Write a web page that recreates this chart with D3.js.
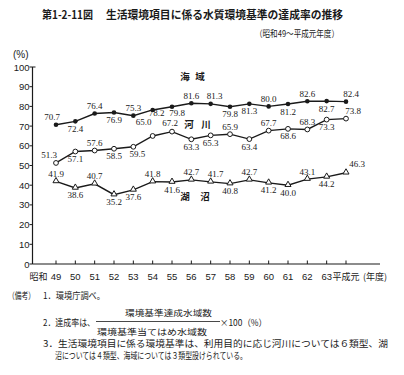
<!DOCTYPE html>
<html><head><meta charset="utf-8">
<script src="https://cdn.jsdelivr.net/npm/d3@7/dist/d3.min.js"></script>
<style>
body{margin:0;background:#fff;}
svg{display:block;}
</style></head>
<body>
<svg id="c" width="404" height="375"></svg>
<script>
// ---- data ----
const years = ["49","50","51","52","53","54","55","56","57","58","59","60","61","62","63","平成元"];
const seaValues   = [70.7,72.4,76.4,76.9,75.3,78.2,79.8,81.6,81.3,79.8,81.3,80.0,81.2,82.6,82.7,82.4];
const riverValues = [51.3,57.1,57.6,58.5,59.5,65.0,67.2,63.3,65.3,65.9,63.4,67.7,68.6,68.3,73.3,73.8];
const lakeValues  = [41.9,38.6,40.7,35.2,37.6,41.8,41.6,42.7,41.7,40.8,42.7,41.2,40.0,43.1,44.2,46.3];
const yTicks = [0,10,20,30,40,50,60,70,80,90,100];
const seriesNames = ["海　域","河　川","湖　沼"];

// ---- label placement (layout only) ----
const places = ["abababbaabbababa", "ababbaabbabababa", "ababbabaababbaba"];
const dxs = [
  {0:-4,5:4,6:5,8:4,15:5},
  {0:-7,4:4,5:-9,6:-2,15:7},
  {8:5,15:11}
];
const dys = [
  {5:-4.5,6:-1.5},
  {5:-6,6:-1.6},
  {15:-1}
];

const svg = d3.select("#c");
const ink = "#1a1a1a";
const x = d3.scalePoint().domain(years).range([56,346]);
const y = d3.scaleLinear().domain([0,100]).range([264,67]);
const x0 = 32.5;

// Title
svg.append("text").attr("x",42).attr("y",19).attr("font-family","Noto Sans CJK JP")
  .attr("font-weight","bold").attr("font-size",11).attr("fill",ink)
  .attr("textLength",51).attr("lengthAdjust","spacingAndGlyphs").text("第1-2-11図");
svg.append("text").attr("x",106).attr("y",19).attr("font-family","Noto Sans CJK JP")
  .attr("font-weight","bold").attr("font-size",11).attr("fill",ink)
  .attr("textLength",237).attr("lengthAdjust","spacingAndGlyphs").text("生活環境項目に係る水質環境基準の達成率の推移");
svg.append("text").attr("x",255).attr("y",36.5).attr("font-family","Noto Sans CJK JP")
  .attr("font-size",9).attr("fill",ink)
  .attr("textLength",84).attr("lengthAdjust","spacingAndGlyphs").text("（昭和49～平成元年度）");

// (%)
svg.append("text").attr("x",13).attr("y",58).attr("font-family","Liberation Sans")
  .attr("font-size",10).attr("fill",ink).text("(%)");

// Axes
const g = svg.append("g");
g.append("line").attr("x1",x0).attr("x2",x0).attr("y1",y(100)).attr("y2",y(0)).attr("stroke",ink).attr("stroke-width",1.2);
g.append("line").attr("x1",x0).attr("x2",380).attr("y1",y(0)).attr("y2",y(0)).attr("stroke",ink).attr("stroke-width",1.2);
g.selectAll(".yt").data(yTicks).enter().append("line")
  .attr("x1",x0-3).attr("x2",d=>d===100?x0+3:x0).attr("y1",d=>y(d)).attr("y2",d=>y(d))
  .attr("stroke",ink).attr("stroke-width",1);
g.selectAll(".yl").data(yTicks).enter().append("text")
  .attr("x",29.5).attr("y",d=>y(d)+3.5).attr("text-anchor","end")
  .attr("font-family","Liberation Sans").attr("font-size",9.5).attr("fill",ink).text(d=>d);
g.selectAll(".xt").data(years).enter().append("line")
  .attr("x1",d=>x(d)).attr("x2",d=>x(d)).attr("y1",y(0)).attr("y2",y(0)-3.5)
  .attr("stroke",ink).attr("stroke-width",1);
g.selectAll(".xl").data(years).enter().append("text")
  .attr("x",d=>x(d)).attr("y",279.5).attr("text-anchor","middle")
  .attr("font-family",d=>d.length>2?"Noto Sans CJK JP":"Liberation Sans")
  .attr("font-size",d=>d.length>2?9:9.5).attr("fill",ink).text(d=>d);
svg.append("text").attr("x",38.5).attr("y",279.5).attr("text-anchor","middle")
  .attr("font-family","Noto Sans CJK JP").attr("font-size",9).attr("fill",ink).text("昭和");
svg.append("text").attr("x",363).attr("y",279.5)
  .attr("font-family","Noto Sans CJK JP").attr("font-size",9).attr("fill",ink).text("(年度)");

// Series
const series = [seaValues, riverValues, lakeValues];
const line = d3.line().x((d,i)=>x(years[i])).y(d=>y(d));
series.forEach((vals,si)=>{
  const sg = svg.append("g");
  sg.append("path").attr("d",line(vals)).attr("fill","none").attr("stroke",ink).attr("stroke-width",1.4);
  if(si===0){
    sg.selectAll("circle").data(vals).enter().append("circle")
      .attr("cx",(d,i)=>x(years[i])).attr("cy",d=>y(d)).attr("r",2.3).attr("fill",ink);
  } else if(si===1){
    sg.selectAll("circle").data(vals).enter().append("circle")
      .attr("cx",(d,i)=>x(years[i])).attr("cy",d=>y(d)).attr("r",2.4)
      .attr("fill","#fff").attr("stroke",ink).attr("stroke-width",1);
  } else {
    const tri = d3.symbol().type(d3.symbolTriangle).size(16);
    sg.selectAll("path.m").data(vals).enter().append("path").attr("class","m")
      .attr("d",tri).attr("transform",(d,i)=>`translate(${x(years[i])},${y(d)-0.5})`)
      .attr("fill","#fff").attr("stroke",ink).attr("stroke-width",1);
  }
  sg.selectAll("text").data(vals).enter().append("text")
    .attr("x",(d,i)=>x(years[i])+(dxs[si][i]||0))
    .attr("y",(d,i)=>(places[si][i]==="a"? y(d)-4.5 : y(d)+10.5)+(dys[si][i]||0))
    .attr("text-anchor","middle").attr("font-family","Liberation Serif")
    .attr("font-size",9).attr("fill",ink).text(d=>d.toFixed(1));
});

// series names
const nameX = [[185,200],[189,206],[185,205]];
const nameY = [80, 128, 200];
seriesNames.forEach((n,i)=>{
  const chars = [n[0], n[2]];
  chars.forEach((c,j)=>{
    svg.append("text").attr("x",nameX[i][j]).attr("y",nameY[i]).attr("text-anchor","middle")
      .attr("font-family","Noto Sans CJK JP").attr("font-size",9.5).attr("font-weight","bold")
      .attr("fill",ink).text(c);
  });
});

// Notes
const nf = "Noto Sans CJK JP";
function note(t,xx,yy,len,size){
  const s = svg.append("text").attr("x",xx).attr("y",yy).attr("font-family",nf)
    .attr("font-size",size||9).attr("fill",ink).text(t);
  if(len) s.attr("textLength",len).attr("lengthAdjust","spacingAndGlyphs");
  return s;
}
note("（備考）",8,299,27);
note("1．環境庁調べ。",43,299,62);
note("環境基準達成水域数",125,316,87,8.5);
note("2．達成率は、",43,325.5,52);
svg.append("line").attr("x1",96).attr("x2",220).attr("y1",321.5).attr("y2",321.5).attr("stroke",ink).attr("stroke-width",0.8);
note("×100（%）",220,325.5,47);
note("環境基準当てはめ水域数",97,334.5,110,8.5);
note("3．生活環境項目に係る環境基準は、利用目的に応じ河川については６類型、湖",43,346.5,345);
note("沼については４類型、海域については３類型設けられている。",55,358.5,192);
</script>
</body></html>
